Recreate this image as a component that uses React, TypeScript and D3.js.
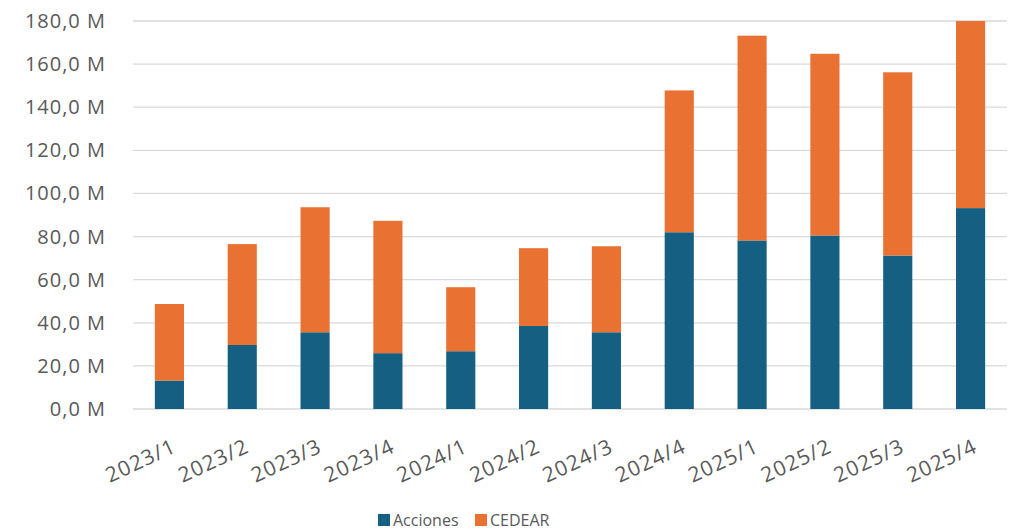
import React, { useRef, useEffect } from 'react';
import * as d3 from 'd3';

const periods = ['2023/1', '2023/2', '2023/3', '2023/4', '2024/1', '2024/2', '2024/3', '2024/4', '2025/1', '2025/2', '2025/3', '2025/4'];
const acciones = [13.2, 29.7, 35.6, 25.9, 26.8, 38.5, 35.6, 82.0, 78.2, 80.5, 71.2, 93.2];
const cedear = [35.5, 46.8, 58.0, 61.4, 29.7, 36.1, 39.9, 65.8, 95.0, 84.3, 85.0, 86.8];
const seriesNames = ['Acciones', 'CEDEAR'];
const colors = ['#156082', '#E97132'];
const yTicks = [0, 20, 40, 60, 80, 100, 120, 140, 160, 180];

const W = 1020;
const H = 531;
const FONT = '"Open Sans", sans-serif';

const StackedChart = () => {
  const svgRef = useRef<SVGSVGElement>(null);

  useEffect(() => {
    const svg = d3.select(svgRef.current);
    svg.selectAll('*').remove();

    const margin = { top: 21, right: 13, bottom: 122, left: 133 };
    const innerW = W - margin.left - margin.right;
    const innerH = H - margin.top - margin.bottom;

    const g = svg.append('g').attr('transform', `translate(${margin.left},${margin.top})`);

    const x = d3.scaleBand().domain(periods).range([0, innerW]).paddingInner(0.6).paddingOuter(0.3);
    const y = d3.scaleLinear().domain([0, 180]).range([innerH, 0]);

    // gridlines
    g.selectAll('.grid')
      .data(yTicks)
      .enter()
      .append('line')
      .attr('x1', 0)
      .attr('x2', innerW)
      .attr('y1', d => y(d))
      .attr('y2', d => y(d))
      .attr('stroke', '#D9D9D9')
      .attr('stroke-width', 1.3);

    // y labels
    g.selectAll('.ylab')
      .data(yTicks)
      .enter()
      .append('text')
      .attr('x', -27)
      .attr('y', d => y(d))
      .attr('dy', '0.35em')
      .attr('text-anchor', 'end')
      .attr('font-family', FONT)
      .attr('font-size', 20)
      .attr('letter-spacing', 1)
      .attr('fill', '#595959')
      .text(d => `${d3.format('.1f')(d).replace('.', ',')} M`);

    const table = periods.map((p, i) => ({ period: p, Acciones: acciones[i], CEDEAR: cedear[i] }));
    const stacked = d3.stack<any>().keys(seriesNames)(table);

    g.selectAll('.series')
      .data(stacked)
      .enter()
      .append('g')
      .attr('fill', (_, i) => colors[i])
      .selectAll('rect')
      .data(d => d)
      .enter()
      .append('rect')
      .attr('x', d => x(d.data.period)!)
      .attr('width', x.bandwidth())
      .attr('y', d => y(d[1]))
      .attr('height', d => y(d[0]) - y(d[1]));

    // x labels
    g.selectAll('.xlab')
      .data(periods)
      .enter()
      .append('text')
      .attr('transform', d => `translate(${x(d)! + x.bandwidth() / 2 + 2},${innerH + 29}) rotate(-25)`)
      .attr('dy', '0.7em')
      .attr('text-anchor', 'end')
      .attr('font-family', FONT)
      .attr('font-size', 21)
      .attr('letter-spacing', 1.2)
      .attr('fill', '#595959')
      .text(d => d);

    // legend
    const legend = svg.append('g').attr('transform', `translate(378,514)`);
    const offsets = [0, 97];
    seriesNames.forEach((name, i) => {
      const item = legend.append('g').attr('transform', `translate(${offsets[i]},0)`);
      item.append('rect').attr('width', 12).attr('height', 12).attr('fill', colors[i]);
      item.append('text')
        .attr('x', 15)
        .attr('y', 12)
        .attr('font-family', FONT)
        .attr('font-size', 16)
        .attr('fill', '#595959')
        .text(name);
    });
  }, []);

  return (
    <svg
      ref={svgRef}
      width={W}
      height={H}
      style={{ position: 'absolute', left: 0, top: 0, display: 'block' }}
    ></svg>
  );
};

export default function App() {
  return <StackedChart />;
}
